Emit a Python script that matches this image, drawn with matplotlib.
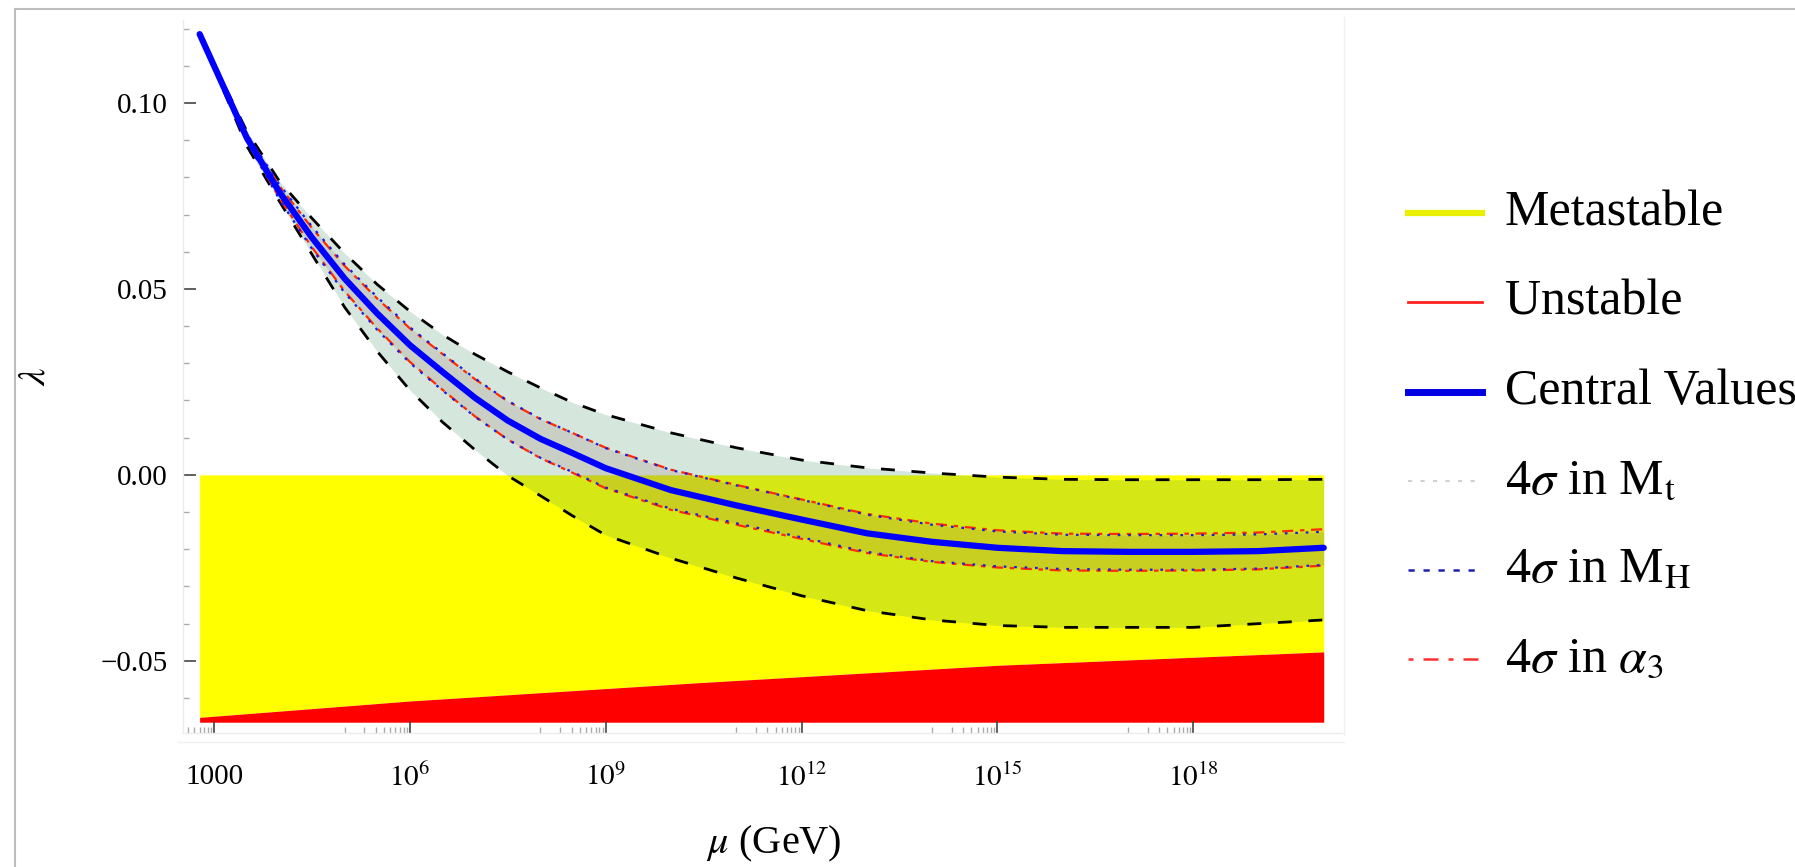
import matplotlib
matplotlib.use('Agg')
import matplotlib.pyplot as plt
from matplotlib.lines import Line2D
from matplotlib.ticker import NullFormatter
import numpy as np

plt.rcParams['font.family'] = ['Liberation Serif', 'DejaVu Serif']
plt.rcParams['mathtext.fontset'] = 'stix'

# log10(mu / GeV) sample points
mu_log = [2.78, 3.0, 3.5, 4.0, 4.5, 5.0, 5.5, 6.0, 6.5, 7.0, 7.5, 8.0, 8.5, 9.0,
          10, 11, 12, 13, 14, 15, 16, 17, 18, 19, 20]

central = [0.1185, 0.1100, 0.0907, 0.0761, 0.0638, 0.0528, 0.0434, 0.0349, 0.0277,
           0.0207, 0.0146, 0.0097, 0.0058, 0.0018, -0.0041, -0.0082, -0.0120,
           -0.0157, -0.0180, -0.0196, -0.0205, -0.0207, -0.0207, -0.0205, -0.0196]

# 4 sigma in M_t
mt_up = [0.1185, 0.1105, 0.0925, 0.0790, 0.0690, 0.0596, 0.0512, 0.0440, 0.0377,
         0.0324, 0.0277, 0.0234, 0.0194, 0.0162, 0.0113, 0.0073, 0.0040, 0.0019,
         0.0005, -0.0006, -0.0012, -0.0013, -0.0013, -0.0013, -0.0012]
mt_lo = [0.1185, 0.1095, 0.0885, 0.0736, 0.0593, 0.0451, 0.0332, 0.0228, 0.0142,
         0.0067, -0.0002, -0.0056, -0.0111, -0.0162, -0.0224, -0.0277, -0.0325,
         -0.0365, -0.0390, -0.0405, -0.0410, -0.0410, -0.0410, -0.0400, -0.0390]

# 4 sigma in M_H
mh_up = [0.1185, 0.1104, 0.0917, 0.0781, 0.0668, 0.0566, 0.0478, 0.0397, 0.0327,
         0.0259, 0.0199, 0.0151, 0.0112, 0.0072, 0.0013, -0.0028, -0.0067, -0.0107,
         -0.0134, -0.0152, -0.0161, -0.0162, -0.0162, -0.0160, -0.0153]
mh_lo = [0.1185, 0.1096, 0.0897, 0.0741, 0.0608, 0.0490, 0.0390, 0.0301, 0.0227,
         0.0156, 0.0095, 0.0046, 0.0007, -0.0034, -0.0091, -0.0130, -0.0168,
         -0.0207, -0.0232, -0.0246, -0.0253, -0.0255, -0.0255, -0.0252, -0.0242]

# 4 sigma in alpha
as_up = [0.1185, 0.1103, 0.0915, 0.0777, 0.0664, 0.0562, 0.0474, 0.0394, 0.0325,
         0.0257, 0.0198, 0.0150, 0.0112, 0.0073, 0.0014, -0.0027, -0.0066, -0.0105,
         -0.0131, -0.0149, -0.0158, -0.0159, -0.0158, -0.0155, -0.0146]
as_lo = [0.1185, 0.1097, 0.0899, 0.0745, 0.0612, 0.0494, 0.0394, 0.0304, 0.0229,
         0.0157, 0.0095, 0.0045, 0.0005, -0.0036, -0.0094, -0.0134, -0.0172,
         -0.0210, -0.0234, -0.0249, -0.0257, -0.0258, -0.0257, -0.0254, -0.0244]

# metastability boundary
meta_log = [2.78, 6, 10.4, 15, 20]
meta_lambda = [-0.0652, -0.0608, -0.0559, -0.0512, -0.0476]
unstable_floor = -0.0665

xtick_log = [3, 6, 9, 12, 15, 18]
xtick_labels = ['1000', r'$10^{6}$', r'$10^{9}$', r'$10^{12}$', r'$10^{15}$', r'$10^{18}$']
ytick_vals = [-0.05, 0.0, 0.05, 0.10]
ytick_labels = ['\u22120.05', '0.00', '0.05', '0.10']
ytick_minor = [-0.06, -0.04, -0.03, -0.02, -0.01, 0.01, 0.02, 0.03, 0.04,
               0.06, 0.07, 0.08, 0.09, 0.11, 0.12]

legend_labels = ['Metastable', 'Unstable', 'Central Values',
                 r'4$\sigma$ in M$_{\rm t}$', r'4$\sigma$ in M$_{\rm H}$',
                 r'4$\sigma$ in $\alpha_3$']

W, H = 1795, 867
fig = plt.figure(figsize=(W / 100, H / 100), dpi=100)
ax = fig.add_axes([183 / W, 1 - 733 / H, (1342 - 183) / W, (733 - 20) / H])

x = 10.0 ** np.array(mu_log)
xm = 10.0 ** np.array(meta_log)

# stability regions
ax.fill_between(xm, meta_lambda, 0, color='#ffff00', lw=0, zorder=1)
ax.fill_between(xm, unstable_floor, meta_lambda, color='#ff0000', lw=0, zorder=1)

# uncertainty bands
ax.fill_between(x, mt_lo, mt_up, color=(58 / 255, 144 / 255, 96 / 255), alpha=0.21, lw=0, zorder=2)
ax.fill_between(x, mh_lo, mh_up, color='#707060', alpha=0.14, lw=0, zorder=2)
ax.fill_between(x, as_lo, as_up, color='#ff6060', alpha=0.06, lw=0, zorder=2)

for y in (mt_up, mt_lo):
    ax.plot(x, y, color='black', lw=2.0, ls=(0, (5, 6)), zorder=3)
for y in (as_up, as_lo):
    ax.plot(x, y, color='#ff2a00', lw=1.6, ls=(0, (2, 3, 5, 3)), zorder=4)
for y in (mh_up, mh_lo):
    ax.plot(x, y, color='#1a1ae0', lw=1.6, ls=(0, (1.2, 3.5)), zorder=4)
ax.plot(x, central, color='#0000ff', lw=4.5, zorder=5, solid_capstyle='round')

ax.set_xscale('log')
ax.set_xlim(10 ** 2.525, 10 ** 20.28)
ax.set_ylim(-0.0694, 0.1223)

ax.set_xticks([10.0 ** k for k in xtick_log])
ax.set_xticklabels(xtick_labels)
xminor = [m * 10.0 ** (k - 1) for k in xtick_log for m in range(1, 10)]
ax.set_xticks([v for v in xminor if v > 10 ** 2.525], minor=True)
ax.xaxis.set_minor_formatter(NullFormatter())
ax.set_yticks(ytick_vals)
ax.set_yticklabels(ytick_labels)
ax.set_yticks(ytick_minor, minor=True)

ax.tick_params(which='major', direction='in', length=9, width=1.2, color='#444444',
               labelsize=21)
ax.tick_params(which='minor', direction='in', length=4, width=1.0, color='#aaaaaa')
ax.tick_params(axis='y', pad=11)
ax.tick_params(axis='x', pad=22)

for s in ('top', 'right'):
    ax.spines[s].set_visible(False)
for s in ('left', 'bottom'):
    ax.spines[s].set_color('#ececec')
    ax.spines[s].set_linewidth(1.0)
ax.patch.set_alpha(0)

ax.set_xlabel(r'$\mu$ (GeV)', fontsize=29)
ax.xaxis.set_label_coords(0.51, -0.128)
ax.set_ylabel(r'$\lambda$', fontsize=28, rotation=90)
ax.yaxis.set_label_coords(-0.112, 0.5)

# legend drawn on the figure
leg_rows = [213, 302, 392, 481, 570, 659]
leg_styles = [
    dict(color='#e8f000', lw=4.5, ls='-'),
    dict(color='#ff2020', lw=2.0, ls='-'),
    dict(color='#0000e0', lw=5.0, ls='-'),
    dict(color='#d0d0d0', lw=1.5, ls=(0, (2, 4))),
    dict(color='#2020b0', lw=1.8, ls=(0, (2.5, 3.5))),
    dict(color='#ff3030', lw=1.8, ls=(0, (2, 4, 6, 4))),
]
for yy, lab, st in zip(leg_rows, legend_labels, leg_styles):
    fig.add_artist(Line2D([1408 / W, 1482 / W], [1 - yy / H, 1 - yy / H],
                          transform=fig.transFigure, **st))
    fig.text(1505 / W, 1 - yy / H, lab, fontsize=36, va='center', ha='left')

# frame lines of the original export
fig.add_artist(Line2D([15 / W, 15 / W], [0, 1 - 9 / H], transform=fig.transFigure,
                      color='#bdbdbd', lw=1.5))
fig.add_artist(Line2D([15 / W, 1], [1 - 9 / H, 1 - 9 / H], transform=fig.transFigure,
                      color='#bdbdbd', lw=1.5))
fig.add_artist(Line2D([1344 / W, 1344 / W], [1 - 735 / H, 1 - 17 / H],
                      transform=fig.transFigure, color='#f0f0f0', lw=1.0))
fig.add_artist(Line2D([178 / W, 1344 / W], [1 - 742 / H, 1 - 742 / H],
                      transform=fig.transFigure, color='#f0f0f0', lw=1.0))

fig.savefig('out.png', dpi=100)
